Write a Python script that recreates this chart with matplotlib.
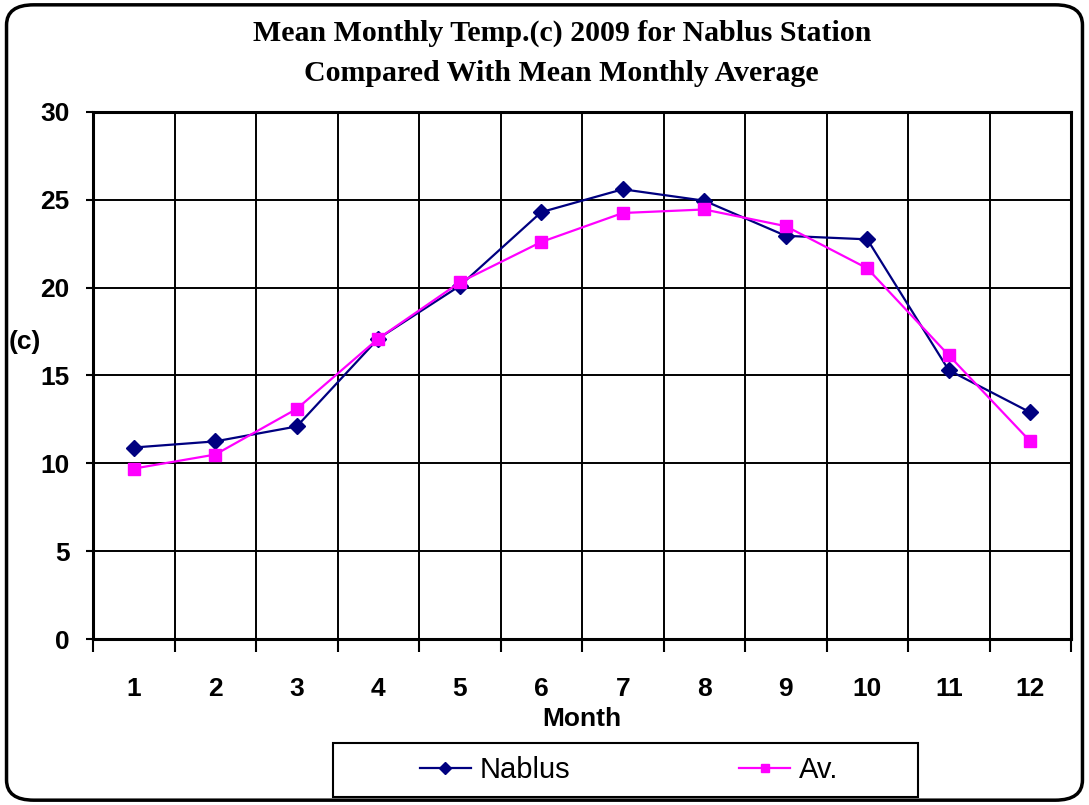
import numpy as np
import matplotlib.pyplot as plt
from matplotlib.patches import FancyBboxPatch, Rectangle

# Datos
meses = [1, 2, 3, 4, 5, 6, 7, 8, 9, 10, 11, 12]
nablus = [10.9, 11.25, 12.1, 17.1, 20.1, 24.3, 25.6, 24.95, 22.95, 22.75, 15.3, 12.9]
promedio = [9.7, 10.5, 13.1, 17.1, 20.3, 22.6, 24.25, 24.45, 23.5, 21.1, 16.15, 11.25]
y_ticks = [0, 5, 10, 15, 20, 25, 30]

fig = plt.figure(figsize=(10.89, 8.05), dpi=100)

# Borde redondeado exterior
borde = FancyBboxPatch((0.006, 0.006), 0.988, 0.988, boxstyle="round,pad=0,rounding_size=0.025",
                       transform=fig.transFigure, fill=False, edgecolor="black", linewidth=2.5)
fig.patches.append(borde)

ax = fig.add_axes([0.0854, 0.2062, 0.8981, 0.6547])

ax.plot(meses, nablus, color="#000080", marker="D", markersize=8, linewidth=1.6, label="Nablus")
ax.plot(meses, promedio, color="#FF00FF", marker="s", markersize=8, linewidth=1.6, label="Av.")

ax.set_xlim(0.5, 12.5)
ax.set_ylim(0, 30)
ax.set_yticks(y_ticks)
ax.set_xticks(meses)
ax.set_xticks(np.arange(0.5, 13, 1), minor=True)
ax.tick_params(axis="x", which="major", length=0, pad=27)
ax.tick_params(axis="x", which="minor", length=9, width=1.5, direction="out")
ax.tick_params(axis="y", length=5, width=1.5, pad=12)
ax.grid(True, which="minor", axis="x", color="black", linewidth=1.4)
ax.grid(True, which="major", axis="y", color="black", linewidth=1.4)
ax.set_axisbelow(True)

for lbl in ax.get_xticklabels() + ax.get_yticklabels():
    lbl.set_fontfamily("Liberation Sans")
    lbl.set_fontweight("bold")
    lbl.set_fontsize(19)

for s in ax.spines.values():
    s.set_linewidth(2.2)
    s.set_color("black")

ax.set_xlabel("Month", fontfamily="Liberation Sans", fontweight="bold", fontsize=19, labelpad=5)
fig.text(0.023, 0.575, "(c)", fontfamily="Liberation Sans", fontweight="bold", fontsize=19,
         ha="center", va="center")

fig.text(0.516, 0.959, "Mean Monthly Temp.(c) 2009 for Nablus Station", fontfamily="Liberation Serif",
         fontweight="bold", fontsize=21.5, ha="center", va="center")
fig.text(0.515, 0.909, "Compared With Mean Monthly Average", fontfamily="Liberation Serif",
         fontweight="bold", fontsize=21.5, ha="center", va="center")

# Leyenda con marco dibujado aparte
caja = Rectangle((333 / 1089, 1 - 797 / 805), 585 / 1089, 54 / 805, transform=fig.transFigure,
                 fill=False, edgecolor="black", linewidth=1.5)
fig.patches.append(caja)
leg = fig.legend(loc="center", bbox_to_anchor=(629 / 1089, 1 - 770 / 805), ncol=2, frameon=False,
                 prop={"family": "Liberation Sans", "size": 21},
                 columnspacing=5.8, handlelength=1.75, handletextpad=0.3, markerscale=0.8)

fig.savefig("out.png", dpi=100)
